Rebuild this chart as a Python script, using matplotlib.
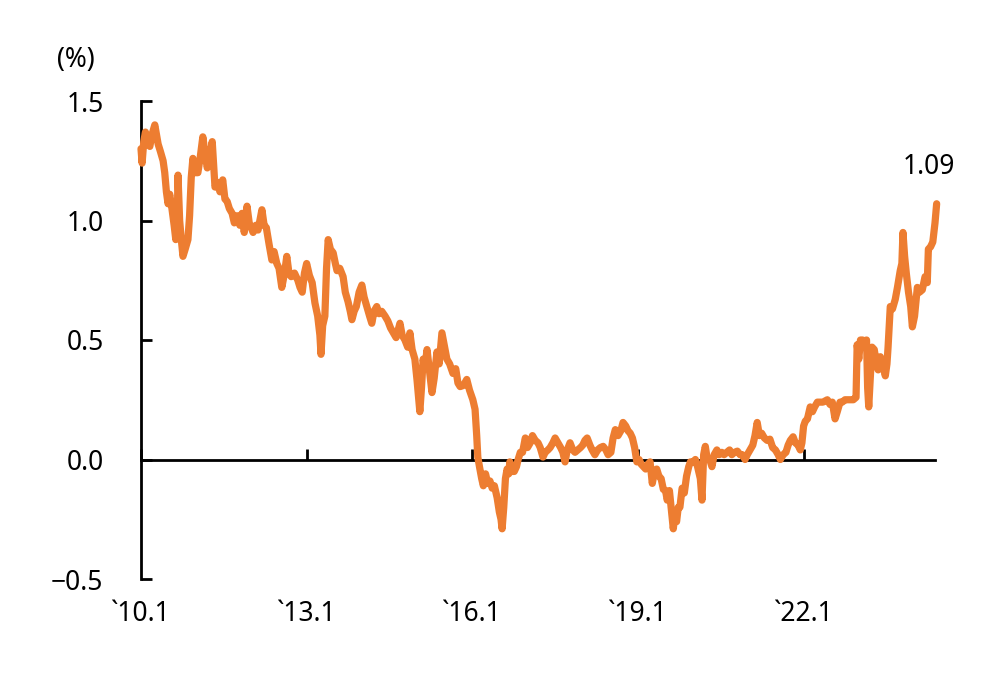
import matplotlib
matplotlib.use("Agg")
from matplotlib import pyplot as plt

plt.rcParams['font.family'] = ['Noto Sans', 'DejaVu Sans']
plt.rcParams['font.weight'] = 'light'

# 10y yield (%); x in decimal years
years = [
    2010.00, 2010.02, 2010.05, 2010.08, 2010.12, 2010.16, 2010.20, 2010.25, 2010.28, 2010.31,
    2010.35, 2010.40, 2010.43, 2010.46, 2010.49, 2010.52, 2010.56, 2010.60, 2010.63, 2010.66,
    2010.67, 2010.70, 2010.73, 2010.76, 2010.80, 2010.85, 2010.88, 2010.91, 2010.94, 2010.98,
    2011.03, 2011.07, 2011.12, 2011.16, 2011.20, 2011.24, 2011.29, 2011.32, 2011.34, 2011.38,
    2011.43, 2011.48, 2011.52, 2011.56, 2011.60, 2011.65, 2011.69, 2011.74, 2011.79, 2011.83,
    2011.87, 2011.92, 2011.96, 2012.03, 2012.08, 2012.12, 2012.19, 2012.23, 2012.27, 2012.32,
    2012.37, 2012.41, 2012.46, 2012.50, 2012.55, 2012.60, 2012.64, 2012.68, 2012.72, 2012.78,
    2012.84, 2012.88, 2012.92, 2012.96, 2013.00, 2013.05, 2013.10, 2013.15, 2013.20, 2013.24,
    2013.26, 2013.29, 2013.33, 2013.36, 2013.39, 2013.43, 2013.48, 2013.52, 2013.55, 2013.60,
    2013.66, 2013.70, 2013.75, 2013.79, 2013.82, 2013.86, 2013.90, 2013.95, 2014.00, 2014.04,
    2014.09, 2014.14, 2014.18, 2014.22, 2014.27, 2014.31, 2014.36, 2014.42, 2014.47, 2014.52,
    2014.57, 2014.62, 2014.69, 2014.73, 2014.78, 2014.83, 2014.87, 2014.91, 2014.96, 2015.00,
    2015.05, 2015.08, 2015.11, 2015.14, 2015.18, 2015.22, 2015.27, 2015.31, 2015.36, 2015.40,
    2015.45, 2015.49, 2015.54, 2015.59, 2015.65, 2015.70, 2015.74, 2015.78, 2015.84, 2015.90,
    2015.95, 2016.01, 2016.05, 2016.08, 2016.10, 2016.13, 2016.17, 2016.20, 2016.24, 2016.28,
    2016.32, 2016.36, 2016.40, 2016.45, 2016.49, 2016.52, 2016.54, 2016.57, 2016.60, 2016.63,
    2016.66, 2016.68, 2016.72, 2016.76, 2016.80, 2016.83, 2016.87, 2016.91, 2016.96, 2017.00,
    2017.05, 2017.09, 2017.14, 2017.19, 2017.23, 2017.28, 2017.32, 2017.37, 2017.41, 2017.46,
    2017.50, 2017.55, 2017.60, 2017.64, 2017.68, 2017.72, 2017.77, 2017.82, 2017.86, 2017.91,
    2017.96, 2018.00, 2018.04, 2018.08, 2018.13, 2018.17, 2018.22, 2018.27, 2018.32, 2018.37,
    2018.42, 2018.46, 2018.51, 2018.55, 2018.59, 2018.64, 2018.69, 2018.73, 2018.78, 2018.82,
    2018.86, 2018.90, 2018.94, 2018.98, 2019.02, 2019.06, 2019.10, 2019.14, 2019.18, 2019.22,
    2019.26, 2019.30, 2019.34, 2019.38, 2019.42, 2019.46, 2019.50, 2019.53, 2019.57, 2019.60,
    2019.64, 2019.67, 2019.70, 2019.73, 2019.76, 2019.80, 2019.84, 2019.88, 2019.92, 2019.95,
    2020.00, 2020.04, 2020.08, 2020.13, 2020.16, 2020.19, 2020.22, 2020.25, 2020.30, 2020.34,
    2020.38, 2020.43, 2020.47, 2020.52, 2020.56, 2020.61, 2020.66, 2020.70, 2020.75, 2020.80,
    2020.85, 2020.89, 2020.94, 2020.98, 2021.03, 2021.08, 2021.12, 2021.16, 2021.20, 2021.24,
    2021.29, 2021.34, 2021.39, 2021.44, 2021.49, 2021.54, 2021.58, 2021.63, 2021.68, 2021.72,
    2021.76, 2021.81, 2021.85, 2021.90, 2021.94, 2021.97, 2022.00, 2022.03, 2022.07, 2022.12,
    2022.16, 2022.20, 2022.25, 2022.30, 2022.35, 2022.43, 2022.48, 2022.52, 2022.57, 2022.61,
    2022.66, 2022.70, 2022.75, 2022.80, 2022.84, 2022.90, 2022.95, 2022.97, 2023.00, 2023.03,
    2023.07, 2023.10, 2023.14, 2023.16, 2023.18, 2023.21, 2023.24, 2023.28, 2023.32, 2023.35,
    2023.39, 2023.43, 2023.48, 2023.51, 2023.53, 2023.57, 2023.61, 2023.66, 2023.70, 2023.75,
    2023.78, 2023.80, 2023.83, 2023.86, 2023.90, 2023.94, 2023.97, 2024.01, 2024.06, 2024.10,
    2024.15, 2024.20, 2024.24, 2024.26, 2024.30, 2024.34, 2024.38, 2024.41,
]
yields = [
    1.30, 1.24, 1.33, 1.37, 1.32, 1.31, 1.36, 1.40, 1.36, 1.32,
    1.29, 1.25, 1.20, 1.12, 1.07, 1.11, 1.05, 0.98, 0.92, 1.04,
    1.19, 1.00, 0.92, 0.85, 0.88, 0.92, 1.02, 1.18, 1.26, 1.20,
    1.20, 1.26, 1.35, 1.28, 1.22, 1.26, 1.33, 1.22, 1.14, 1.16,
    1.12, 1.17, 1.09, 1.08, 1.05, 1.03, 0.99, 1.02, 0.98, 1.03,
    0.95, 1.06, 0.99, 0.95, 0.98, 0.96, 1.045, 0.98, 0.97, 0.90,
    0.835, 0.87, 0.82, 0.80, 0.72, 0.78, 0.85, 0.78, 0.765, 0.78,
    0.75, 0.72, 0.70, 0.78, 0.82, 0.77, 0.74, 0.655, 0.60, 0.52,
    0.44, 0.56, 0.60, 0.80, 0.92, 0.88, 0.865, 0.82, 0.79, 0.80,
    0.765, 0.70, 0.66, 0.62, 0.585, 0.62, 0.64, 0.70, 0.73, 0.68,
    0.64, 0.60, 0.57, 0.62, 0.64, 0.61, 0.62, 0.60, 0.58, 0.55,
    0.53, 0.51, 0.57, 0.52, 0.50, 0.47, 0.53, 0.46, 0.42, 0.33,
    0.20, 0.30, 0.42, 0.38, 0.46, 0.38, 0.28, 0.34, 0.45, 0.40,
    0.53, 0.48, 0.42, 0.40, 0.36, 0.38, 0.32, 0.305, 0.31, 0.335,
    0.29, 0.25, 0.21, 0.10, 0.01, -0.03, -0.08, -0.11, -0.06, -0.10,
    -0.09, -0.12, -0.11, -0.16, -0.22, -0.25, -0.29, -0.20, -0.08, -0.04,
    -0.06, -0.01, -0.05, -0.05, -0.03, 0.00, 0.03, 0.03, 0.09, 0.05,
    0.07, 0.10, 0.08, 0.07, 0.05, 0.01, 0.03, 0.04, 0.05, 0.07,
    0.09, 0.07, 0.05, 0.03, -0.01, 0.04, 0.07, 0.04, 0.03, 0.04,
    0.05, 0.06, 0.08, 0.09, 0.06, 0.04, 0.02, 0.04, 0.05, 0.055,
    0.04, 0.02, 0.03, 0.09, 0.125, 0.10, 0.12, 0.155, 0.14, 0.12,
    0.11, 0.09, 0.05, -0.01, 0.00, -0.02, -0.03, -0.04, -0.02, -0.01,
    -0.10, -0.05, -0.04, -0.07, -0.08, -0.125, -0.13, -0.17, -0.13, -0.20,
    -0.29, -0.23, -0.26, -0.20, -0.20, -0.12, -0.14, -0.07, -0.03, -0.01,
    -0.01, 0.00, -0.03, -0.08, -0.17, 0.02, 0.055, 0.01, 0.00, -0.03,
    0.02, 0.04, 0.02, 0.03, 0.02, 0.03, 0.04, 0.02, 0.03, 0.035,
    0.02, 0.02, 0.00, 0.02, 0.04, 0.06, 0.10, 0.155, 0.10, 0.11,
    0.09, 0.08, 0.085, 0.05, 0.04, 0.02, 0.00, 0.02, 0.03, 0.06,
    0.08, 0.095, 0.07, 0.06, 0.04, 0.07, 0.14, 0.16, 0.17, 0.22,
    0.20, 0.22, 0.24, 0.24, 0.24, 0.25, 0.23, 0.24, 0.17, 0.20,
    0.24, 0.24, 0.25, 0.25, 0.25, 0.25, 0.26, 0.48, 0.42, 0.50,
    0.50, 0.49, 0.50, 0.30, 0.22, 0.35, 0.47, 0.46, 0.40, 0.375,
    0.43, 0.40, 0.35, 0.40, 0.47, 0.64, 0.63, 0.67, 0.72, 0.79,
    0.82, 0.95, 0.85, 0.78, 0.70, 0.64, 0.555, 0.60, 0.72, 0.70,
    0.71, 0.765, 0.74, 0.88, 0.89, 0.91, 0.99, 1.07,
]

tick_years = [2010, 2013, 2016, 2019, 2022]
tick_labels = ['`10.1', '`13.1', '`16.1', '`19.1', '`22.1']
last_label = '1.09'

fig = plt.figure(figsize=(10.02, 6.76), dpi=100)
ax = fig.add_axes([141/1002, 1-579/676, (935-141)/1002, (579-101)/676])

ax.plot(years, yields, color='#ED7D31', linewidth=5.2, solid_capstyle='round',
        solid_joinstyle='round', zorder=3, clip_on=False)

ax.set_ylim(-0.5, 1.5)
ax.set_xlim(2010, 2024.38)
ax.set_yticks([-0.5, 0.0, 0.5, 1.0, 1.5])
ax.set_yticklabels(['\u22120.5', '0.0', '0.5', '1.0', '1.5'])
ax.set_xticks(tick_years)
ax.set_xticklabels(tick_labels)

ax.spines['top'].set_visible(False)
ax.spines['right'].set_visible(False)
ax.spines['bottom'].set_position(('data', 0))
for s in ['left', 'bottom']:
    ax.spines[s].set_linewidth(2)
    ax.spines[s].set_color('black')

ax.tick_params(axis='y', direction='in', length=8, width=2, pad=27, labelsize=19)
ax.tick_params(axis='x', direction='in', length=8, width=2, pad=101, labelsize=19)

ax.text(2024.26, 1.225, last_label, ha='center', va='center', fontsize=19)
fig.text(76/1002, 1-60/676, '(%)', ha='center', va='center', fontsize=19)

plt.savefig('out.png', dpi=100)
